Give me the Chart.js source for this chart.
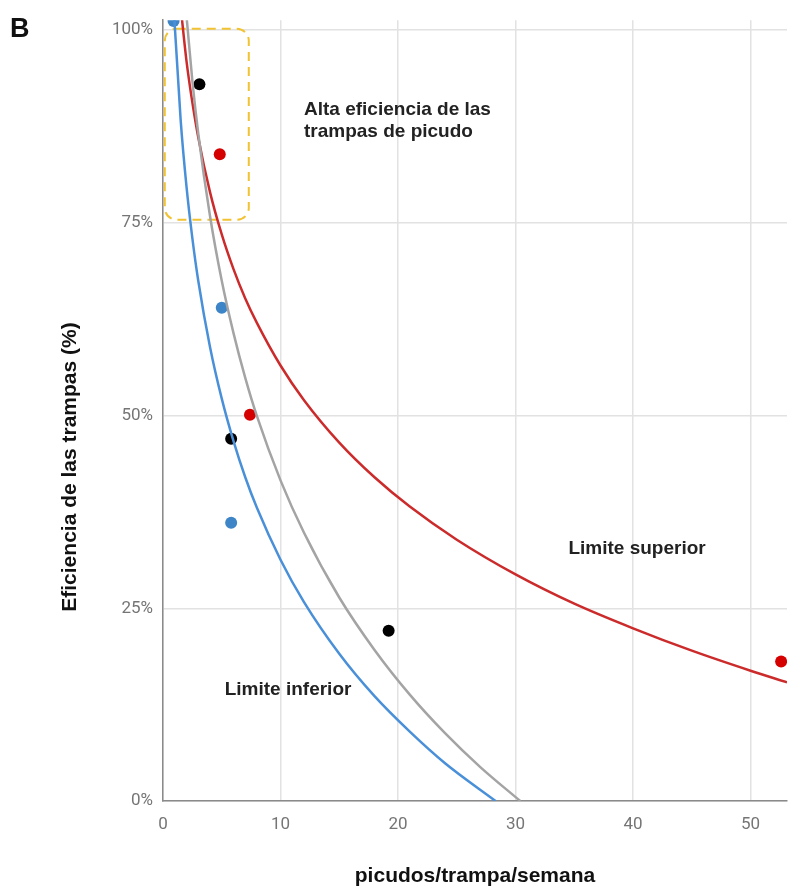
<!DOCTYPE html>
<html>
<head>
<meta charset="utf-8">
<script src="https://cdn.jsdelivr.net/npm/chart.js@4.4.1/dist/chart.umd.min.js"></script>
<style>
  html, body { margin: 0; padding: 0; background: #fff; }
</style>
</head>
<body>
<canvas id="chart" width="793" height="888"></canvas>
<script>
// tick values
var xTicks = [0, 10, 20, 30, 40, 50];
var yTicks = [0, 25, 50, 75, 100];

// observed points (picudos/trampa/semana, % eficiencia)
var blackX = [3.1, 5.8, 19.2];
var blackY = [93, 47, 22.1];
var redX = [4.83, 7.4, 52.6];
var redY = [83.9, 50.1, 18.1];
var blueX = [0.9, 5.0, 5.8];
var blueY = [101.2, 64.0, 36.1];

// trend curves
var upperX = [1.5, 2, 2.5, 3, 4, 5, 6, 7, 8, 10, 12, 15, 18, 21, 25, 30, 35, 40, 45, 50, 53.1];
var upperY = [103.1, 96.0, 90.6, 86.1, 79.0, 73.5, 69.0, 65.2, 62.0, 56.5, 52.0, 46.5, 42.0, 38.2, 33.9, 29.4, 25.6, 22.4, 19.5, 16.9, 15.4];
var midX = [1.8, 2, 2.5, 3, 4, 5, 6, 7, 8, 10, 12, 15, 18, 21, 24, 27, 30.4];
var midY = [105.7, 101.8, 93.4, 86.6, 75.9, 67.5, 60.7, 54.9, 49.9, 41.6, 34.8, 26.4, 19.6, 13.8, 8.8, 4.4, 0];
var lowerX = [0.95, 1, 1.5, 2, 2.5, 3, 4, 5, 6, 7, 8, 10, 12, 15, 18, 21, 24, 28.3];
var lowerY = [102.1, 100.6, 88.4, 79.7, 73.0, 67.5, 58.9, 52.2, 46.7, 42.0, 38.0, 31.3, 25.8, 19.1, 13.6, 9.0, 4.9, 0];

// annotation box and labels (data units)
var boxX = [0.15, 7.3];
var boxY = [75.4, 100.2];
var notes = [
  { text: 'Alta eficiencia de las', x: 12.0, y: 89.0 },
  { text: 'trampas de picudo', x: 12.0, y: 86.2 },
  { text: 'Limite superior', x: 34.5, y: 32.0 },
  { text: 'Limite inferior', x: 5.25, y: 13.7 }
];

function pts(xs, ys) {
  return xs.map(function (x, i) { return { x: x, y: ys[i] }; });
}

function lineSet(xs, ys, color) {
  return {
    data: pts(xs, ys),
    showLine: true,
    borderColor: color,
    borderWidth: 2.5,
    pointRadius: 0,
    cubicInterpolationMode: 'monotone',
    fill: false
  };
}

function dotSet(xs, ys, color) {
  return {
    data: pts(xs, ys),
    showLine: false,
    backgroundColor: color,
    borderWidth: 0,
    pointRadius: 6
  };
}

var decor = {
  id: 'decor',
  beforeDatasetsDraw: function (chart) {
    var ctx = chart.ctx, sx = chart.scales.x, sy = chart.scales.y;
    var l = sx.getPixelForValue(boxX[0]), r = sx.getPixelForValue(boxX[1]);
    var t = sy.getPixelForValue(boxY[1]), b = sy.getPixelForValue(boxY[0]);
    ctx.save();
    ctx.strokeStyle = '#f1c232';
    ctx.lineWidth = 2;
    ctx.setLineDash([9, 6]);
    ctx.beginPath();
    ctx.roundRect(l, t, r - l, b - t, 12);
    ctx.stroke();
    ctx.restore();
  },
  afterDraw: function (chart) {
    var ctx = chart.ctx, sx = chart.scales.x, sy = chart.scales.y, a = chart.chartArea;
    ctx.save();
    ctx.fillStyle = '#222';
    ctx.font = 'bold 19px "Liberation Sans", Arial, sans-serif';
    ctx.textAlign = 'left';
    ctx.textBaseline = 'alphabetic';
    notes.forEach(function (n) {
      ctx.fillText(n.text, sx.getPixelForValue(n.x), sy.getPixelForValue(n.y));
    });

    ctx.fillStyle = '#111';
    ctx.font = 'bold 21px "Liberation Sans", Arial, sans-serif';
    ctx.textAlign = 'center';
    ctx.fillText('picudos/trampa/semana', (a.left + a.right) / 2, a.bottom + 81);

    ctx.save();
    ctx.translate(76, 467);
    ctx.rotate(-Math.PI / 2);
    ctx.font = 'bold 21px "Liberation Sans", Arial, sans-serif';
    ctx.fillText('Eficiencia de las trampas (%)', 0, 0);
    ctx.restore();

    ctx.textAlign = 'left';
    ctx.font = 'bold 27px "Liberation Sans", Arial, sans-serif';
    ctx.fillText('B', 10, 37);
    ctx.restore();
  }
};

new Chart(document.getElementById('chart').getContext('2d'), {
  type: 'scatter',
  data: {
    datasets: [
      lineSet(lowerX, lowerY, '#4a90d9'),
      lineSet(midX, midY, '#a4a4a4'),
      lineSet(upperX, upperY, '#cc2b2b'),
      dotSet(blackX, blackY, '#000000'),
      dotSet(redX, redY, '#d50000'),
      dotSet(blueX, blueY, '#3d85c6')
    ]
  },
  options: {
    responsive: false,
    devicePixelRatio: 1,
    animation: false,
    layout: { padding: { left: 0, right: 3, top: 17, bottom: 0 } },
    plugins: {
      legend: { display: false },
      tooltip: { enabled: false }
    },
    scales: {
      x: {
        type: 'linear',
        min: 0,
        max: 53.1,
        afterFit: function (s) { s.height = 87; },
        afterBuildTicks: function (s) { s.ticks = xTicks.map(function (v) { return { value: v }; }); },
        ticks: {
          color: '#757575',
          font: { family: 'Roboto', size: 17 },
          padding: 14,
          maxRotation: 0
        },
        grid: { color: '#e2e2e2', lineWidth: 1.5, drawTicks: false },
        border: { color: '#8a8a8a', width: 1.5 }
      },
      y: {
        type: 'linear',
        min: 0,
        max: 101.3,
        afterFit: function (s) { s.width = 163; },
        afterBuildTicks: function (s) { s.ticks = yTicks.map(function (v) { return { value: v }; }); },
        ticks: {
          color: '#757575',
          font: { family: 'Roboto', size: 17 },
          padding: 10,
          callback: function (v) { return v + '%'; }
        },
        grid: { color: '#e2e2e2', lineWidth: 1.5, drawTicks: false },
        border: { color: '#8a8a8a', width: 1.5 }
      }
    }
  },
  plugins: [decor]
});
</script>
</body>
</html>
